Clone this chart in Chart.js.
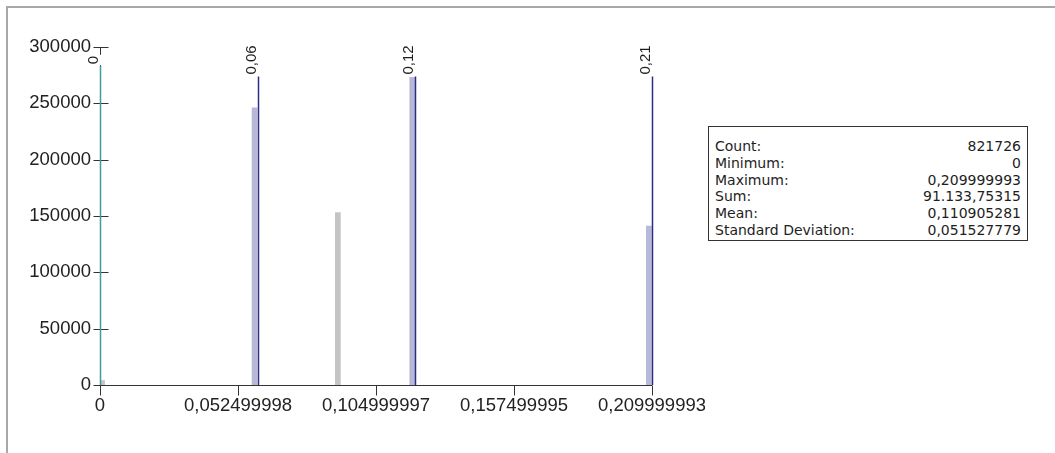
<!DOCTYPE html>
<html lang="en">
<head>
    <meta charset="UTF-8">
    <title>Histogram</title>
    <script src="https://cdn.jsdelivr.net/npm/chart.js"></script>
    <style>
        * {
            margin: 0;
            padding: 0;
            box-sizing: border-box;
        }

        body {
            width: 1055px;
            height: 453px;
            overflow: hidden;
            position: relative;
            background: #fff;
            font-family: 'Liberation Sans', Arial, sans-serif;
        }

        .frame {
            position: absolute;
            left: 6px;
            top: 6px;
            right: 0;
            bottom: 0;
            border-left: 2px solid #a8a8a8;
            border-top: 2px solid #a8a8a8;
        }

        /* clips the last x label like the original */
        .chart-wrap {
            position: absolute;
            left: 8px;
            top: 8px;
            width: 697px;
            height: 445px;
            overflow: hidden;
        }

        .stats {
            position: absolute;
            left: 708px;
            top: 126px;
            width: 320px;
            height: 115px;
            border: 1px solid #333;
            padding: 11px 6px 0 6px;
            font-family: 'DejaVu Sans', Tahoma, sans-serif;
            font-size: 14px;
            color: #1e1e1e;
        }

        .stats .row {
            display: flex;
            justify-content: space-between;
            height: 16.8px;
            line-height: 16.8px;
        }
    </style>
</head>
<body>
    <div class="frame"></div>
    <div class="chart-wrap">
        <canvas id="histChart" width="708" height="445"></canvas>
    </div>

    <div class="stats" id="stats"></div>

    <script>
        // histogram bins (centre value, count)
        const binCenters = [0.0008, 0.0588, 0.0905, 0.1188, 0.2088];
        const binCounts = [4000, 246000, 153000, 273000, 141000];
        const binColors = ['#c2c6c6', '#b8b8d6', '#c4c4c4', '#b8b8d6', '#b8b8da'];

        // marked values drawn as vertical lines
        const markerValues = [0, 0.06, 0.12, 0.21];
        const markerLabels = ['0', '0,06', '0,12', '0,21'];
        const markerColors = ['#3f9c9c', '#2c2c82', '#2c2c82', '#2c2c82'];

        // axis ticks
        const xTicks = [0, 0.0525, 0.105, 0.1575, 0.21];
        const xTickLabels = ['0', '0,052499998', '0,104999997', '0,157499995', '0,209999993'];
        const yMax = 300000;
        const yStep = 50000;

        // statistics panel
        const statNames = ['Count:', 'Minimum:', 'Maximum:', 'Sum:', 'Mean:', 'Standard Deviation:'];
        const statValues = ['821726', '0', '0,209999993', '91.133,75315', '0,110905281', '0,051527779'];

        const statsBox = document.getElementById('stats');
        statNames.forEach((name, i) => {
            const row = document.createElement('div');
            row.className = 'row';
            row.innerHTML = '<span>' + name + '</span><span>' + statValues[i] + '</span>';
            statsBox.appendChild(row);
        });

        // tick marks that cross the axes
        const tickMarks = {
            id: 'tickMarks',
            afterDatasetsDraw(chart) {
                const { ctx, scales: { x, y }, chartArea } = chart;
                ctx.save();
                ctx.strokeStyle = '#333';
                ctx.lineWidth = 1;
                const ax = Math.round(chartArea.left) + 0.5;
                y.ticks.forEach(t => {
                    const py = Math.round(y.getPixelForValue(t.value)) + 0.5;
                    ctx.beginPath();
                    ctx.moveTo(ax - 7, py);
                    ctx.lineTo(ax + 8, py);
                    ctx.stroke();
                });
                const by = Math.round(chartArea.bottom) + 0.5;
                x.ticks.forEach(t => {
                    const px = Math.round(x.getPixelForValue(t.value)) + 0.5;
                    ctx.beginPath();
                    ctx.moveTo(px, by);
                    ctx.lineTo(px, by + 10);
                    ctx.stroke();
                });
                ctx.restore();
            }
        };

        // vertical marker lines with rotated labels
        const markers = {
            id: 'markers',
            afterDatasetsDraw(chart) {
                const { ctx, scales: { x }, chartArea } = chart;
                ctx.save();
                ctx.font = '15px "Liberation Sans", Arial, sans-serif';
                const cy = chartArea.top + 13;
                markerValues.forEach((v, i) => {
                    const px = Math.round(x.getPixelForValue(v)) + 0.5;
                    const w = ctx.measureText(markerLabels[i]).width;
                    const lineTop = cy + w / 2 + 2;

                    ctx.strokeStyle = markerColors[i];
                    ctx.lineWidth = 1.5;
                    ctx.beginPath();
                    ctx.moveTo(px, lineTop);
                    ctx.lineTo(px, chartArea.bottom);
                    ctx.stroke();

                    ctx.save();
                    ctx.translate(px, cy);
                    ctx.rotate(-Math.PI / 2);
                    ctx.fillStyle = '#fff';
                    ctx.fillRect(-w / 2 - 1, -14, w + 2, 17);
                    ctx.fillStyle = '#1e1e1e';
                    ctx.textAlign = 'center';
                    ctx.textBaseline = 'alphabetic';
                    ctx.fillText(markerLabels[i], 0, -3);
                    ctx.restore();
                });
                ctx.restore();
            }
        };

        const axisFont = { family: "'Liberation Sans', Arial, sans-serif", size: 18.5 };

        new Chart(document.getElementById('histChart'), {
            type: 'bar',
            data: {
                datasets: [{
                    data: binCenters.map((c, i) => ({ x: c, y: binCounts[i] })),
                    backgroundColor: binColors,
                    borderWidth: 0,
                    barThickness: 5
                }]
            },
            options: {
                responsive: false,
                devicePixelRatio: 1,
                animation: false,
                layout: {
                    padding: { top: 39, right: 55, left: 0, bottom: 0 }
                },
                plugins: {
                    legend: { display: false },
                    tooltip: { enabled: false }
                },
                scales: {
                    x: {
                        type: 'linear',
                        offset: false,
                        min: 0,
                        max: 0.21,
                        afterBuildTicks: s => { s.ticks = xTicks.map(v => ({ value: v })); },
                        afterFit: s => { s.height = 68; },
                        grid: { display: false, drawTicks: false, offset: false },
                        border: { display: true, color: '#333', width: 1 },
                        ticks: {
                            autoSkip: false,
                            maxRotation: 0,
                            padding: 10,
                            color: '#222',
                            font: axisFont,
                            callback: (v, i) => xTickLabels[i]
                        }
                    },
                    y: {
                        min: 0,
                        max: yMax,
                        afterFit: s => { s.width = 92; },
                        grid: { display: false, drawTicks: false },
                        border: { display: true, color: '#333', width: 1 },
                        ticks: {
                            stepSize: yStep,
                            padding: 9,
                            color: '#222',
                            font: axisFont,
                            callback: v => String(v)
                        }
                    }
                }
            },
            plugins: [tickMarks, markers]
        });
    </script>
</body>
</html>
